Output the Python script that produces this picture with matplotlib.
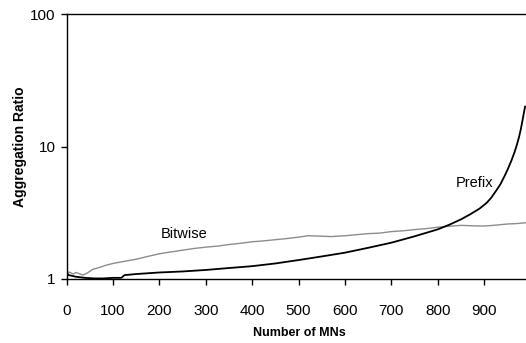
import numpy as np
import matplotlib
matplotlib.use("Agg")
import matplotlib.pyplot as plt

plt.rcParams['font.family'] = ['Liberation Sans', 'DejaVu Sans']

# Bitwise (gray)
bitwise_x = [0, 5, 10, 15, 20, 27, 35, 45, 56, 70, 85, 100, 120, 150, 175, 200,
             225, 250, 275, 300, 325, 350, 375, 400, 425, 450, 475, 500, 520,
             540, 570, 600, 625, 650, 675, 700, 725, 750, 775, 800, 825, 850,
             875, 900, 925, 950, 970, 990]
bitwise_y = [1.0, 1.13, 1.11, 1.09, 1.12, 1.10, 1.07, 1.11, 1.18, 1.22, 1.27, 1.31,
             1.35, 1.41, 1.48, 1.55, 1.60, 1.65, 1.70, 1.74, 1.77, 1.82, 1.86,
             1.91, 1.94, 1.98, 2.02, 2.07, 2.12, 2.11, 2.09, 2.12, 2.16, 2.20,
             2.22, 2.28, 2.31, 2.36, 2.40, 2.46, 2.50, 2.54, 2.52, 2.51, 2.55,
             2.60, 2.62, 2.66]

# Prefix (black)
prefix_x = [0, 5, 10, 20, 40, 60, 80, 100, 118, 125, 150, 200, 250, 300, 350,
            400, 450, 500, 550, 600, 650, 700, 750, 800, 825, 850, 870, 890,
            905, 915, 925, 935, 944, 952, 959, 965, 970, 975, 979, 982, 985, 988]
prefix_y = [1.10, 1.07, 1.06, 1.04, 1.02, 1.01, 1.01, 1.02, 1.02, 1.07, 1.09,
            1.12, 1.14, 1.17, 1.21, 1.25, 1.31, 1.39, 1.48, 1.58, 1.72, 1.88,
            2.10, 2.37, 2.57, 2.82, 3.08, 3.40, 3.75, 4.1, 4.6, 5.2, 6.0, 6.9,
            7.9, 9.0, 10.2, 11.8, 13.6, 15.4, 17.6, 20.0]

x_ticks = [0, 100, 200, 300, 400, 500, 600, 700, 800, 900]
y_ticks = [1, 10, 100]
y_tick_labels = ['1', '10', '100']

fig = plt.figure(figsize=(5.26, 3.43), dpi=100)
ax = fig.add_axes([66.5 / 526, 1 - 279 / 343, 1 - 66.5 / 526, (279 - 14) / 343])

ax.plot(bitwise_x, bitwise_y, color='#8c8c8c', lw=1.0)
ax.plot(prefix_x, prefix_y, color='black', lw=1.3)

ax.set_yscale('log')
ax.set_ylim(1, 100)
ax.set_xlim(0, 990)
ax.set_yticks(y_ticks)
ax.set_yticklabels(y_tick_labels)
ax.yaxis.set_minor_locator(matplotlib.ticker.NullLocator())
ax.set_xticks(x_ticks)

ax.tick_params(axis='x', direction='out', length=4, width=1, labelsize=11, pad=14)
ax.tick_params(axis='y', direction='out', length=4, width=1, labelsize=11, pad=4)

for s in ['left', 'bottom', 'top']:
    ax.spines[s].set_linewidth(1.0)
ax.spines['right'].set_visible(False)

ax.text(254, 2.19, 'Bitwise', fontsize=10.5, ha='center', va='center')
ax.text(880, 5.3, 'Prefix', fontsize=10.5, ha='center', va='center')

fig.text(20 / 526, 1 - 146.5 / 343, 'Aggregation Ratio', rotation=90,
         fontsize=10, fontweight='bold', ha='center', va='center')
fig.text(299 / 526, 1 - 333 / 343, 'Number of MNs', fontsize=9,
         fontweight='bold', ha='center', va='center')

fig.savefig('out.png', dpi=100)
